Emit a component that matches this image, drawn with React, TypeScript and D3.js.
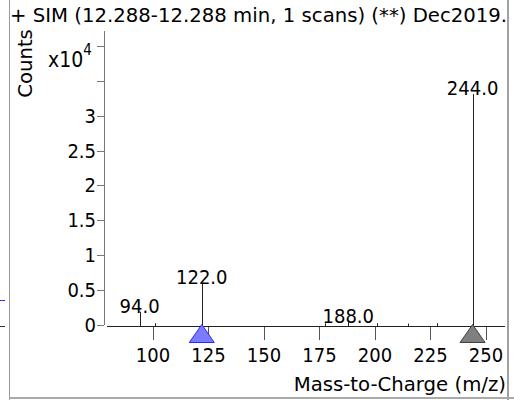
import React from "react";
import * as d3 from "d3";

const title = "+ SIM (12.288-12.288 min, 1 scans) (**) Dec2019.";
const xLabel = "Mass-to-Charge (m/z)";
const yLabel = "Counts";
const mz = [94, 101, 122, 177.5, 188, 201, 215, 228, 244];
const counts = [1900, 250, 6000, 250, 400, 250, 200, 250, 33100];
const peakLabels = ["94.0", "", "122.0", "", "188.0", "", "", "", "244.0"];
const xTicks = [100, 125, 150, 175, 200, 225, 250];
const yTicks = [0, 5000, 10000, 15000, 20000, 25000, 30000, 35000, 40000];
const yTickLabels = ["0", "0.5", "1", "1.5", "2", "2.5", "3", "", "x10"];
const markers = [
  { mz: 122, fill: "#7b7bff", stroke: "#2a2aff" },
  { mz: 244, fill: "#7f7f7f", stroke: "#404040" },
];

const W = 514;
const H = 400;
const NUM_FONT = "'DejaVu Sans Condensed', 'DejaVu Sans', sans-serif";
const TXT_FONT = "'DejaVu Sans', sans-serif";

export default function App() {
  const x = d3.scaleLinear().domain([79.3, 258.6]).range([107, 505]);
  const y = d3.scaleLinear().domain([0, 42000]).range([325, 32]);
  const axisY = 326.5;

  return (
    <svg
      width={W}
      height={H}
      style={{ position: "absolute", left: 0, top: 0, background: "#fff" }}
      fontFamily={NUM_FONT}
    >
      <rect width={W} height={H} fill="#fff" />
      {/* neighbouring panel remnants */}
      <line x1={0} x2={5} y1={300.5} y2={300.5} stroke="#3030ff" />
      <line x1={0} x2={5} y1={326.5} y2={326.5} stroke="#333" />
      <text x={-6} y={385} fontSize={20} fill="#000">)</text>
      {/* frame */}
      <line x1={9.5} x2={9.5} y1={0} y2={400} stroke="#999" />
      <line x1={508} x2={508} y1={0} y2={400} stroke="#444" />
      <line x1={9} x2={514} y1={398} y2={398} stroke="#aaa" strokeWidth={2} />

      <text x={10} y={22} fontSize={19.7} fontFamily={TXT_FONT} fill="#000">{title}</text>
      <text
        transform={`translate(32,63.5) rotate(-90)`}
        textAnchor="middle"
        fontSize={19.7}
        fontFamily={TXT_FONT}
        fill="#000"
      >
        {yLabel}
      </text>

      {/* y axis */}
      <line x1={104.5} x2={104.5} y1={31} y2={325} stroke="#777" />
      {yTicks.map((t, i) => (
        <g key={t}>
          <line x1={97} x2={104} y1={Math.round(y(t)) + 0.5} y2={Math.round(y(t)) + 0.5} stroke="#777" />
          {i === yTicks.length - 1 ? (
            <text x={48} y={y(t) + 21} textAnchor="start" fontSize={21} fill="#000">
              {yTickLabels[i]}
              <tspan fontSize={15} dy={-12}>4</tspan>
            </text>
          ) : (
            <text x={96} y={y(t) + 7} textAnchor="end" fontSize={20} fill="#000">
              {yTickLabels[i]}
            </text>
          )}
        </g>
      ))}

      {/* x axis */}
      <line x1={107} x2={505} y1={axisY} y2={axisY} stroke="#222" />
      {xTicks.map((t) => (
        <g key={t}>
          <line x1={Math.round(x(t)) + 0.5} x2={Math.round(x(t)) + 0.5} y1={327} y2={340} stroke="#555" />
          <text x={x(t)} y={362} textAnchor="middle" fontSize={20} fill="#000">{t}</text>
        </g>
      ))}
      <text x={506} y={391} textAnchor="end" fontSize={19.7} fontFamily={TXT_FONT} fill="#000">{xLabel}</text>

      {/* peaks */}
      {mz.map((m, i) => (
        <g key={m}>
          <line
            x1={Math.round(x(m)) + 0.5}
            x2={Math.round(x(m)) + 0.5}
            y1={axisY}
            y2={Math.min(y(counts[i]), axisY - 1.5)}
            stroke="#222"
          />
          {peakLabels[i] && (
            <text x={x(m)} y={y(counts[i]) + 1} textAnchor="middle" fontSize={20} fill="#000">
              {peakLabels[i]}
            </text>
          )}
        </g>
      ))}

      {/* markers */}
      {markers.map((mk) => {
        const cx = x(mk.mz);
        return (
          <path
            key={mk.mz}
            d={`M${cx},${axisY - 2} L${cx + 12.5},${axisY + 16} L${cx - 12.5},${axisY + 16} Z`}
            fill={mk.fill}
            stroke={mk.stroke}
          />
        );
      })}
    </svg>
  );
}
